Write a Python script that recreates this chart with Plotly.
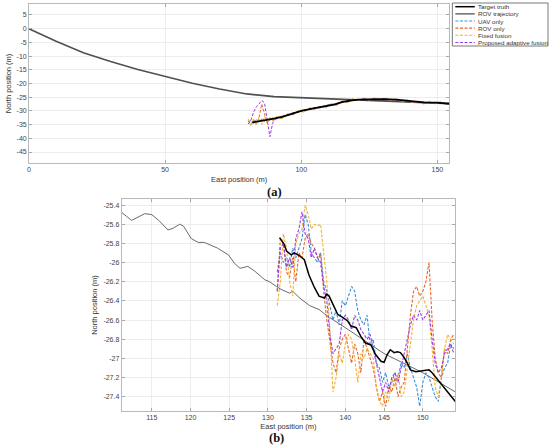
import plotly.graph_objects as go

W, H = 550, 448

# ---------------- Panel (a) data ----------------
rov_a_east = [0, 10, 20, 30, 40, 50, 60, 70, 80, 90, 100, 110, 120, 130, 140, 150, 154.5]
rov_a_north = [0, -4.6, -8.8, -12.0, -14.9, -17.5, -19.9, -22.0, -23.8, -24.8, -25.2, -25.45, -25.75, -26.2, -26.65, -27.1, -27.35]

truth_a_east = [82, 84, 86, 88, 90, 93, 96, 100, 104, 108, 112, 115, 118, 121, 125, 130, 135, 140, 145, 150, 154.5]
truth_a_north = [-34.2, -33.9, -33.6, -33.2, -32.8, -32.2, -31.3, -30.0, -29.2, -28.5, -27.7, -26.8, -26.2, -25.9, -25.7, -25.7, -25.9, -26.5, -26.9, -27.0, -27.4]

est_a_east = [80.5, 81.5, 82.5, 83.5, 84.5, 85.5, 86.5, 87.5, 88.5, 89.5, 91, 93, 95, 97, 99, 101, 103, 105, 107,
              109, 111, 113, 115, 117, 119, 121, 123, 125, 127, 129, 131, 133, 135, 137, 139, 141, 143, 145, 147,
              149, 151, 153, 154.5]
uav_a = [-34.0, -33.5, -34.6, -33.2, -34.1, -33.0, -33.9, -32.8, -33.4, -32.5, -32.9, -31.8, -31.9, -30.6, -30.5,
         -29.5, -29.7, -28.7, -28.9, -28.0, -27.6, -27.7, -26.5, -26.6, -25.8, -26.1, -25.5, -25.9, -25.4, -25.9,
         -25.5, -26.1, -25.7, -26.5, -26.3, -26.9, -26.6, -27.2, -26.8, -27.3, -26.9, -27.1, -27.0]
rovonly_a = [-33.5, -35.0, -33.2, -34.8, -32.5, -27.5, -31.0, -34.3, -32.6, -33.5, -32.2, -32.7, -31.2, -31.4, -29.9,
             -30.2, -29.0, -29.4, -28.3, -28.7, -27.5, -27.9, -26.4, -26.9, -25.7, -26.2, -25.5, -25.9, -25.4, -26.0,
             -25.5, -26.2, -25.8, -26.6, -26.2, -26.9, -26.5, -27.4, -26.7, -27.3, -26.8, -27.2, -27.1]
fixed_a = [-32.8, -35.5, -33.0, -35.2, -32.3, -34.9, -32.0, -34.6, -32.4, -33.8, -31.9, -32.9, -30.9, -31.6, -29.8,
           -30.6, -28.9, -29.5, -28.2, -28.9, -27.3, -28.1, -26.2, -27.0, -25.5, -26.3, -25.3, -26.1, -25.2, -26.1,
           -25.3, -26.3, -25.6, -26.8, -26.0, -27.1, -26.4, -27.5, -26.6, -27.5, -26.7, -27.4, -27.2]
prop_a = [-34.8, -33.5, -30.5, -28.5, -27.5, -26.2, -27.0, -34.0, -39.4, -34.5, -32.4, -32.0, -31.4, -30.9, -30.2,
          -29.7, -29.3, -28.9, -28.6, -28.2, -27.8, -27.3, -26.7, -26.4, -26.0, -25.9, -25.7, -25.8, -25.6, -25.8,
          -25.7, -25.9, -26.0, -26.4, -26.5, -26.7, -26.8, -27.1, -26.9, -27.2, -27.1, -27.3, -27.4]

# ---------------- Panel (b) data ----------------
rov_b_east = [111.1, 112.4, 114.1, 115.0, 115.9, 117.1, 117.8, 118.6, 119.1, 120.1, 121.0, 121.8, 123.5, 124.9, 125.7,
              126.4, 127.4, 128.3, 129.6, 130.2, 131.1, 131.7, 132.8, 133.2, 134.1, 135.4, 136.6, 137.7, 140.0, 145.0,
              150.0, 154.2]
rov_b_north = [-25.476, -25.56, -25.49, -25.50, -25.56, -25.66, -25.64, -25.60, -25.62, -25.75, -25.79, -25.79, -25.85,
               -25.92, -26.01, -26.06, -26.04, -26.09, -26.18, -26.20, -26.25, -26.28, -26.32, -26.30, -26.37, -26.45,
               -26.49, -26.56, -26.68, -26.95, -27.15, -27.35]

truth_b_east = [131.5, 132.1, 132.4, 133.0, 133.4, 134.1, 134.7, 135.0, 135.3, 136.0, 136.6, 137.3, 137.6, 137.9, 138.4,
                139.0, 139.6, 140.3, 140.7, 141.4, 142.0, 142.6, 143.3, 143.9, 144.6, 145.0, 145.4, 145.8, 146.3, 146.7,
                147.1, 147.5, 148.0, 148.4, 149.1, 149.9, 150.8, 151.2, 151.9, 152.5, 153.4, 154.2]
truth_b_north = [-25.74, -25.81, -25.88, -25.92, -25.90, -25.93, -25.97, -26.04, -26.13, -26.26, -26.35, -26.37, -26.33,
                 -26.35, -26.44, -26.54, -26.57, -26.61, -26.66, -26.68, -26.77, -26.84, -26.86, -26.96, -27.03, -27.04,
                 -26.96, -26.91, -26.94, -26.93, -26.94, -26.98, -27.05, -27.12, -27.14, -27.13, -27.12, -27.15, -27.22,
                 -27.29, -27.38, -27.45]

est_b_east = [131.2, 131.6, 132.0, 132.4, 132.8, 133.2, 133.6, 134.0, 134.4, 134.8, 135.2, 135.6, 136.0, 136.4, 136.8,
              137.2, 137.6, 138.0, 138.4, 138.8, 139.2, 139.6, 140.0, 140.4, 140.8, 141.2, 141.6, 142.0, 142.4, 142.8,
              143.2, 143.6, 144.0, 144.4, 144.8, 145.2, 145.6, 146.0, 146.4, 146.8, 147.2, 147.6, 148.0, 148.4, 148.8,
              149.2, 149.6, 150.0, 150.4, 150.8, 151.2, 151.6, 152.0, 152.4, 152.8, 153.2, 153.6, 154.0]
uav_b = [-26.1, -25.9, -26.0, -25.95, -26.05, -25.85, -25.95, -25.85, -25.75, -25.5, -25.6, -25.9, -25.95, -26.0, -25.9,
         -26.2, -26.3, -26.45, -26.6, -26.5, -26.65, -26.4, -26.45, -26.35, -26.25, -26.3, -26.5, -26.6, -26.65, -26.55,
         -26.85, -26.8, -27.05, -27.1, -27.25, -27.15, -27.3, -27.25, -27.15, -27.2, -27.05, -27.1, -26.95, -27.1, -27.2,
         -27.3, -27.5, -27.25, -27.15, -27.2, -27.3, -27.4, -27.45, -27.2, -27.1, -27.05, -26.85, -26.9]
rovonly_b = [-26.3, -25.75, -25.8, -26.1, -26.15, -25.95, -26.2, -25.9, -25.95, -25.75, -25.7, -25.8, -25.85, -25.95,
             -25.9, -26.3, -26.6, -26.85, -27.05, -27.15, -26.9, -26.8, -26.75, -26.9, -27.05, -26.85, -26.95, -27.15,
             -26.8, -26.9, -27.0, -27.1, -27.3, -27.45, -27.35, -27.5, -27.3, -27.35, -27.2, -27.4, -27.3, -27.25, -26.9,
             -26.55, -26.3, -26.25, -26.35, -26.3, -26.2, -26.0, -26.6, -27.0, -27.15, -27.2, -26.9, -26.95, -26.8, -26.75]
fixed_b = [-26.45, -26.2, -25.7, -25.85, -26.2, -26.35, -25.8, -25.7, -25.65, -25.4, -25.5, -25.65, -25.6, -25.62, -25.6,
           -25.9, -26.2, -26.7, -27.35, -27.2, -26.95, -27.05, -26.85, -26.75, -26.8, -27.0, -27.25, -26.95, -27.0, -26.9,
           -26.95, -27.0, -27.3, -27.45, -27.5, -27.35, -27.45, -27.2, -27.3, -27.15, -27.4, -27.35, -27.1, -26.85, -26.6,
           -26.45, -26.4, -26.35, -26.45, -26.55, -26.9, -27.3, -27.4, -27.2, -26.9, -26.75, -26.8, -26.85]
prop_b = [-26.3, -25.85, -25.8, -26.05, -25.95, -26.05, -25.75, -25.65, -25.47, -25.7, -25.75, -25.95, -25.85, -25.95,
          -26.0, -26.25, -26.4, -26.75, -26.95, -26.9, -26.85, -26.6, -26.55, -26.6, -26.7, -26.55, -26.6, -26.7, -26.75,
          -26.8, -26.75, -26.9, -27.05, -27.2, -27.35, -27.25, -27.35, -27.2, -27.15, -27.25, -27.1, -26.95, -26.8, -26.65,
          -26.55, -26.6, -26.5, -26.6, -26.55, -26.5, -26.8, -27.05, -27.15, -27.1, -26.95, -26.9, -26.85, -26.95]

b_ytickvals = [-25.4, -25.6, -25.8, -26.0, -26.2, -26.4, -26.6, -26.8, -27.0, -27.2, -27.4]
b_yticktext = ["-25.4", "-25.6", "-25.8", "-26", "-26.2", "-26.4", "-26.6", "-26.8", "-27", "-27.2", "-27.4"]
b_xtickvals = [115, 120, 125, 130, 135, 140, 145, 150]
a_ytickvals = [5, 0, -5, -10, -15, -20, -25, -30, -35, -40, -45]
a_yticktext = ["5", "0", "-5", "-10", "-15", "-20", "-25", "-30", "-35", "-40", "-45"]
a_xtickvals = [0, 50, 100, 150]

legend_labels = ["Target truth", "ROV trajectory", "UAV only", "ROV only", "Fixed fusion", "Proposed adaptive fusion"]

C_TRUTH = "#000000"
C_ROV = "#505050"
C_UAV = "#3a8fd9"
C_ROVONLY = "#e8642a"
C_FIXED = "#f2b233"
C_PROP = "#9b3de6"
legend_colors = [C_TRUTH, "#6a6a6a", C_UAV, C_ROVONLY, C_FIXED, C_PROP]
legend_dash = ["solid", "solid", "dash", "dash", "dash", "dash"]

DASH = "3px,1.6px"

fig = go.Figure()

def add(x, y, color, width, dash, xa, ya):
    fig.add_trace(go.Scatter(x=x, y=y, mode="lines", line=dict(color=color, width=width, dash=dash),
                             xaxis=xa, yaxis=ya, showlegend=False, hoverinfo="skip"))

# panel a
add(rov_a_east, rov_a_north, C_ROV, 1.6, "solid", "x", "y")
add(est_a_east, uav_a, C_UAV, 1.0, DASH, "x", "y")
add(est_a_east, rovonly_a, C_ROVONLY, 1.0, DASH, "x", "y")
add(est_a_east, fixed_a, C_FIXED, 1.0, DASH, "x", "y")
add(est_a_east, prop_a, C_PROP, 1.0, DASH, "x", "y")
add(truth_a_east, truth_a_north, C_TRUTH, 1.8, "solid", "x", "y")

# panel b
add(rov_b_east, rov_b_north, "#6a6a6a", 1.0, "solid", "x2", "y2")
add(est_b_east, uav_b, C_UAV, 1.1, DASH, "x2", "y2")
add(est_b_east, rovonly_b, C_ROVONLY, 1.1, DASH, "x2", "y2")
add(est_b_east, fixed_b, C_FIXED, 1.1, DASH, "x2", "y2")
add(est_b_east, prop_b, C_PROP, 1.1, DASH, "x2", "y2")
add(truth_b_east, truth_b_north, C_TRUTH, 1.5, "solid", "x2", "y2")

def px(x):
    return x / W

def py(y):
    return 1 - y / H

FONT = "Liberation Sans, Arial, sans-serif"
TICKFONT = dict(family=FONT, size=7, color="#444444")
TITLEFONT = dict(family=FONT, size=7.5, color="#333333")
axis_common = dict(showgrid=True, gridcolor="#e8e8e8", gridwidth=0.8, showline=True, linecolor="#a8a8a8",
                   linewidth=0.8, mirror="ticks", ticks="inside", ticklen=3, tickcolor="#a8a8a8",
                   zeroline=False, tickfont=TICKFONT)

fig.update_layout(
    width=W, height=H, margin=dict(l=0, r=0, t=0, b=0),
    paper_bgcolor="white", plot_bgcolor="white",
    xaxis=dict(domain=[px(27), px(449)], range=[0, 154.4], tickvals=a_xtickvals, anchor="y",
               title=dict(text="East position (m)", font=TITLEFONT, standoff=4), **axis_common),
    yaxis=dict(domain=[py(163), py(4)], range=[-49, 9], tickvals=a_ytickvals, ticktext=a_yticktext, anchor="x",
               title=dict(text="North position (m)", font=TITLEFONT, standoff=3), **axis_common),
    xaxis2=dict(domain=[px(120), px(455)], range=[111.1, 154.2], tickvals=b_xtickvals, anchor="y2",
                title=dict(text="East position (m)", font=TITLEFONT, standoff=3), **axis_common),
    yaxis2=dict(domain=[py(410.7), py(199.3)], range=[-27.546, -25.34], tickvals=b_ytickvals,
                ticktext=b_yticktext, anchor="x2",
                title=dict(text="North position (m)", font=TITLEFONT, standoff=4), **axis_common),
)

shapes = []
annotations = []
# legend box
shapes.append(dict(type="rect", xref="paper", yref="paper", x0=px(452), x1=px(548), y0=py(46), y1=py(3),
                   line=dict(color="#555555", width=0.8), fillcolor="white", layer="above"))
for i, (lab, col, dsh) in enumerate(zip(legend_labels, legend_colors, legend_dash)):
    yc = 6.7 + i * 7.15
    shapes.append(dict(type="line", xref="paper", yref="paper", x0=px(455), x1=px(474.5), y0=py(yc), y1=py(yc),
                       line=dict(color=col, width=1.5 if i < 2 else 1.1, dash="solid" if dsh == "solid" else "3px,1.6px"),
                       layer="above"))
    annotations.append(dict(text=lab, xref="paper", yref="paper", x=px(475.5), y=py(yc), xanchor="left",
                            yanchor="middle", showarrow=False, font=dict(family=FONT, size=6.2, color="#333333")))

annotations.append(dict(text="<b>(a)</b>", xref="paper", yref="paper", x=px(273), y=py(192), xanchor="center",
                        yanchor="middle", showarrow=False,
                        font=dict(family="Liberation Serif, Times New Roman, serif", size=12.5, color="#111111")))
annotations.append(dict(text="<b>(b)</b>", xref="paper", yref="paper", x=px(275), y=py(438), xanchor="center",
                        yanchor="middle", showarrow=False,
                        font=dict(family="Liberation Serif, Times New Roman, serif", size=12.5, color="#111111")))

fig.update_layout(shapes=shapes, annotations=annotations)

fig.write_html("out.html", config={"displayModeBar": False, "staticPlot": True},
               post_script="document.body.style.margin='0';document.body.style.overflow='hidden';")
